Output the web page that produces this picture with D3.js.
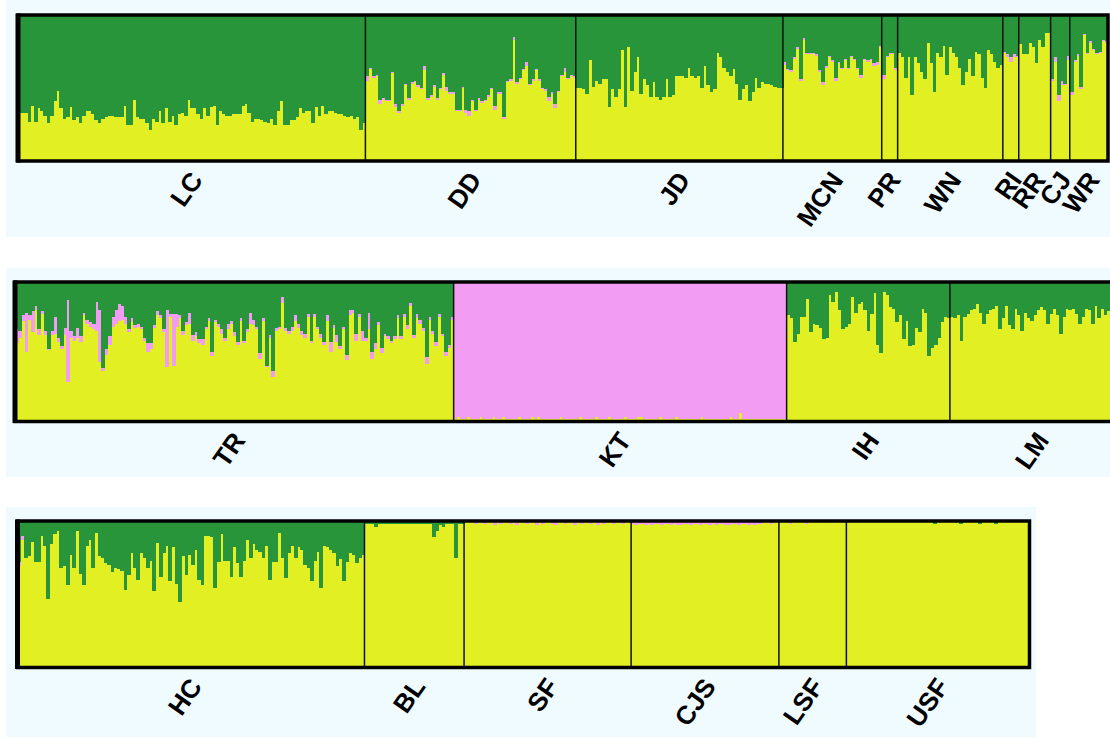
<!DOCTYPE html>
<html>
<head>
<meta charset="utf-8">
<script src="https://cdn.jsdelivr.net/npm/d3@7"></script>
<style>
  body { margin: 0; background: #fff; }
  .pop-label { font-family: 'Liberation Sans', Arial, sans-serif; font-weight: bold; font-size: 26px; fill: #000; }
</style>
</head>
<body>
<svg id="chart" width="1110" height="738"></svg>
<script>
// population names, one list per row of the figure
const row1Pops = ['LC', 'DD', 'JD', 'MCN', 'PR', 'WN', 'RI', 'RR', 'CJ', 'WR']
const row2Pops = ['TR', 'KT', 'IH', 'LM']
const row3Pops = ['HC', 'BL', 'SF', 'CJS', 'LSF', 'USF']

// membership (%) per individual: yellow cluster at the bottom, pink above, green takes the rest
const lcYellow = [33, 33, 33, 27, 38, 27, 36, 34, 31, 26, 31, 41, 48, 36, 29, 30, 37, 28, 30, 26, 31, 34, 34, 32, 28, 26, 29, 30, 31, 31, 30, 30, 30, 38, 25, 25, 42, 30, 29, 29, 26, 21, 29, 27, 34, 26, 36, 27, 31, 25, 32, 33, 31, 42, 36, 36, 32, 29, 36, 31, 37, 38, 25, 34, 32, 31, 31, 32, 32, 32, 38, 39, 33, 27, 29, 29, 28, 27, 26, 29, 25, 34, 41, 25, 25, 28, 28, 30, 36, 33, 34, 34, 26, 37, 31, 38, 32, 34, 34, 33, 32, 32, 31, 30, 31, 29, 30, 21, 26]
const ddYellow = [55, 63, 57, 58, 39, 42, 41, 41, 60, 37, 33, 38, 52, 42, 53, 54, 51, 49, 62, 42, 44, 51, 42, 49, 59, 48, 46, 46, 34, 34, 50, 33, 31, 41, 34, 42, 40, 41, 44, 49, 35, 46, 46, 29, 54, 55, 83, 53, 56, 62, 65, 52, 55, 62, 55, 49, 48, 41, 46, 36, 47, 58, 61, 56, 58, 57]
const ddPink = [3, 1, 1, 1, 3, 1, 1, 1, 1, 2, 1, 1, 1, 1, 1, 1, 1, 1, 3, 1, 1, 1, 1, 1, 1, 3, 1, 1, 1, 1, 1, 2, 3, 1, 1, 1, 1, 1, 1, 1, 3, 1, 1, 1, 1, 1, 2, 1, 1, 1, 3, 1, 1, 1, 1, 1, 1, 3, 1, 3, 1, 1, 3, 1, 1, 1]
const jdYellow = [50, 50, 49, 46, 69, 51, 55, 53, 56, 56, 37, 49, 44, 49, 76, 37, 78, 48, 61, 71, 46, 56, 52, 44, 54, 44, 42, 44, 56, 44, 45, 58, 58, 58, 57, 64, 58, 57, 58, 50, 65, 52, 47, 49, 74, 71, 64, 61, 58, 63, 53, 42, 49, 52, 41, 47, 57, 50, 54, 53, 53, 52, 51, 50, 50]
const mcnYellow = [66, 62, 61, 70, 77, 55, 83, 73, 73, 73, 72, 61, 52, 64, 71, 68, 55, 67, 63, 69, 63, 71, 69, 63, 57, 69, 68, 69, 65, 66, 78]
const mcnPink = [2, 1, 1, 1, 1, 1, 1, 1, 1, 1, 1, 1, 2, 1, 1, 1, 2, 1, 1, 1, 1, 1, 1, 1, 2, 1, 1, 1, 2, 2, 1]
const prYellow = [56, 71, 73, 73, 62]
const prPink = [3, 1, 1, 1, 2]
const wnYellow = [74, 71, 57, 71, 45, 71, 67, 61, 56, 81, 67, 47, 74, 71, 79, 59, 78, 74, 71, 64, 52, 61, 70, 58, 75, 73, 57, 50, 76, 73, 68, 64, 66]
const riYellow = [74, 71, 68, 71, 71]
const riPink = [1, 2, 3, 2, 1]
const rrYellow = [80, 73, 73, 81, 78, 67, 83, 78, 88, 88]
const cjYellow = [55, 68, 41, 52, 52, 69]
const cjPink = [1, 3, 4, 3, 1, 3]
const wrYellow = [45, 68, 72, 49, 86, 73, 81, 76, 73, 74, 82, 81]
const wrPink = [2, 1, 1, 2, 1, 1, 1, 1, 1, 1, 1, 1]

const trYellow = [56, 60, 72, 50, 73, 64, 80, 62, 77, 62, 51, 62, 63, 57, 52, 62, 28, 60, 58, 60, 57, 76, 70, 68, 66, 65, 43, 36, 48, 55, 68, 70, 72, 73, 70, 64, 71, 67, 68, 66, 58, 50, 52, 67, 76, 74, 64, 39, 75, 40, 68, 74, 62, 69, 70, 58, 61, 56, 55, 66, 72, 47, 71, 68, 63, 58, 66, 70, 61, 55,
  72, 56, 64, 70, 69, 66, 45, 72, 39, 60, 32, 65, 66, 85, 65, 63, 65, 72, 67, 62, 60, 75, 56, 75, 66, 60, 55, 72, 50, 67, 57, 52, 66, 44, 76, 78, 58, 75, 58, 58, 66, 45, 52, 69, 49, 61, 59, 56, 59, 74, 59, 75, 66, 83, 60, 74, 70, 65, 41, 73, 63, 54, 75, 61, 47, 53, 73]
const trPink = [10, 5, 4, 28, 3, 15, 3, 4, 2, 3, 1, 3, 12, 3, 2, 5, 59, 5, 3, 7, 4, 2, 3, 3, 4, 21, 37, 2, 4, 6, 7, 10, 12, 10, 5, 2, 3, 2, 2, 2, 2, 6, 4, 2, 3, 2, 2, 41, 2, 37, 9, 2, 3, 2, 8, 4, 3, 3, 4, 2, 2, 3, 2, 2, 3, 2, 4, 2, 3, 2,
  2, 2, 2, 8, 4, 2, 4, 2, 1, 2, 4, 2, 2, 4, 2, 2, 3, 4, 3, 3, 3, 2, 2, 2, 2, 3, 2, 4, 7, 2, 5, 2, 2, 4, 4, 2, 5, 2, 7, 2, 12, 5, 4, 2, 4, 2, 2, 2, 2, 2, 2, 2, 3, 2, 2, 3, 3, 2, 5, 2, 2, 3, 2, 2, 3, 2, 2]
const ktYellow = [2, 3, 2, 2, 3, 2, 2, 2, 3, 2, 2, 2, 3, 2, 2, 3, 2, 2, 2, 2, 3, 2, 2, 2, 3, 2, 3, 2, 2, 2, 2, 2, 2, 3, 2, 2, 2, 2, 2, 3, 2, 2, 2, 2, 3, 2, 2, 2, 3, 2, 2, 2, 2, 3, 2, 2, 2, 3, 3, 2, 2, 2, 2, 2, 3, 2, 2, 2, 2, 3, 2, 2, 2, 2, 2, 2, 2, 3, 2, 2, 2, 2, 2, 2, 2, 2, 3, 2, 2, 6, 2, 2, 2, 2, 2, 2, 2, 2, 2, 2, 2, 2, 2, 2]
const ktPink = [98, 97, 98, 98, 97, 98, 98, 98, 97, 98, 98, 98, 97, 98, 98, 97, 98, 98, 98, 98, 97, 98, 98, 98, 97, 98, 97, 98, 98, 98, 98, 98, 98, 97, 98, 98, 98, 98, 98, 97, 98, 98, 98, 98, 97, 98, 98, 98, 97, 98, 98, 98, 98, 97, 98, 98, 98, 97, 97, 98, 98, 98, 98, 98, 97, 98, 98, 98, 98, 97, 98, 98, 98, 98, 98, 98, 98, 97, 98, 98, 98, 98, 98, 98, 98, 98, 97, 98, 98, 94, 98, 98, 98, 98, 98, 98, 98, 98, 98, 98, 98, 98, 98, 98]
const ihYellow = [76, 74, 57, 63, 75, 75, 88, 64, 70, 69, 67, 59, 60, 91, 86, 93, 80, 66, 68, 70, 89, 78, 84, 86, 80, 65, 77, 92, 55, 49, 93, 91, 82, 81, 71, 76, 59, 72, 54, 55, 67, 64, 81, 78, 47, 53, 55, 60, 71, 75, 74]
const lmYellow = [75, 74, 76, 58, 75, 77, 80, 81, 84, 78, 70, 77, 80, 81, 83, 66, 74, 83, 69, 66, 81, 76, 65, 78, 74, 72, 76, 80, 82, 80, 70, 77, 81, 76, 63, 75, 81, 80, 81, 77, 70, 75, 81, 80, 70, 83, 74, 81, 76, 79, 72, 80, 75, 78, 74]

const hcYellow = [69, 87, 75, 76, 86, 72, 72, 90, 83, 47, 84, 91, 93, 68, 69, 56, 77, 68, 93, 64, 56, 83, 87, 68, 92, 76, 75, 71, 70, 65, 68, 67, 66, 53, 63, 78, 68, 60, 78, 75, 68, 73, 52, 85, 62, 78, 83, 59, 82, 57, 45, 76, 63, 77, 70, 80, 60, 56, 90, 90, 89, 54, 72, 91, 73, 73, 62, 82, 71, 62, 73, 87, 75, 84, 80, 79, 75, 83, 60, 72, 72, 92, 75, 61, 78, 83, 75, 82, 80, 70, 68, 59, 73, 79, 54, 83, 82, 80, 78, 69, 74, 59, 72, 78, 77, 71, 75, 77]
const hcPink = [3, 3]
const blYellow = [98, 98, 98, 96, 98, 98, 98, 98, 98, 98, 98, 98, 98, 98, 98, 98, 98, 98, 98, 98, 98, 89, 93, 97, 96, 98, 98, 98, 75, 98, 98]
const sfYellow = [99, 99, 99, 98, 99, 99, 98, 99, 99, 97, 99, 98, 99, 99, 98, 99, 97, 99, 99, 98, 99, 99, 97, 99, 98, 99, 99, 98, 97, 99, 99, 98, 99, 99, 97, 99, 98, 99, 99, 98, 99, 97, 99, 98, 99, 99, 98, 99, 99, 98, 99, 99]
const sfPink = [1, 1, 1, 2, 1, 1, 2, 1, 1, 3, 1, 2, 1, 1, 2, 1, 3, 1, 1, 2, 1, 1, 3, 1, 2, 1, 1, 2, 3, 1, 1, 2, 1, 1, 3, 1, 2, 1, 1, 2, 1, 3, 1, 2, 1, 1, 2, 1, 1, 2, 1, 1]
const cjsYellow = [98, 97, 98, 98, 97, 98, 97, 98, 98, 97, 98, 98, 97, 98, 97, 97, 98, 98, 97, 98, 98, 97, 98, 98, 97, 98, 97, 98, 98, 97, 97, 98, 98, 97, 98, 98, 97, 98, 97, 98, 98, 99, 99, 98, 99, 99]
const cjsPink = [2, 3, 2, 2, 3, 2, 3, 2, 2, 3, 2, 2, 3, 2, 3, 3, 2, 2, 3, 2, 2, 3, 2, 2, 3, 2, 3, 2, 2, 3, 3, 2, 2, 3, 2, 2, 3, 2, 3, 2, 2, 1, 1, 2, 1, 1]
const lsfYellow = [99, 99, 99, 98, 99, 99, 99, 99, 98, 99, 99, 99, 99, 99, 99, 99, 99, 99, 99, 99, 99]
const lsfPink = [1, 1, 1, 1, 1, 1, 1, 1, 1, 1, 1, 0, 1, 0, 1, 0, 1, 0, 1, 0, 1]
const usfYellow = [99, 99, 99, 99, 99, 99, 99, 99, 99, 99, 99, 99, 99, 99, 99, 99, 99, 99, 99, 99, 99, 99, 99, 99, 99, 99, 99, 98, 99, 99, 99, 99, 99, 99, 99, 98, 99, 99, 99, 99, 99, 98, 99, 99, 99, 99, 98, 99, 99, 99, 99, 99, 99, 99, 99, 99, 99]

const yellowByPop = {
  LC: lcYellow, DD: ddYellow, JD: jdYellow, MCN: mcnYellow, PR: prYellow, WN: wnYellow, RI: riYellow, RR: rrYellow, CJ: cjYellow, WR: wrYellow,
  TR: trYellow, KT: ktYellow, IH: ihYellow, LM: lmYellow,
  HC: hcYellow, BL: blYellow, SF: sfYellow, CJS: cjsYellow, LSF: lsfYellow, USF: usfYellow
}
const pinkByPop = {
  DD: ddPink, MCN: mcnPink, PR: prPink, RI: riPink, CJ: cjPink, WR: wrPink,
  TR: trPink, KT: ktPink, HC: hcPink, SF: sfPink, CJS: cjsPink, LSF: lsfPink
}

const colors = { yellow: '#e1ef23', pink: '#f39cf3', green: '#28953a' }
const panelBg = '#effbff'

const svg = d3.select('#chart')

// light background strips behind each row
const backgrounds = [
  { x: 6, y: 0, w: 1104, h: 237 },
  { x: 6, y: 268, w: 1104, h: 209 },
  { x: 6, y: 507, w: 1030, h: 230 }
]
svg.selectAll('rect.bg').data(backgrounds).join('rect')
  .attr('class', 'bg')
  .attr('x', d => d.x).attr('y', d => d.y)
  .attr('width', d => d.w).attr('height', d => d.h)
  .attr('fill', panelBg)

const panels = [
  { pops: row1Pops, x0: 18, x1: 1108, y0: 15, y1: 161 },
  { pops: row2Pops, x0: 15, x1: 1126, y0: 282, y1: 421.5 },
  { pops: row3Pops, x0: 17.5, x1: 1029.5, y0: 521, y1: 667.5 }
]

function drawPanel (panel) {
  const rows = []
  panel.pops.forEach(name => {
    const pink = pinkByPop[name] || []
    yellowByPop[name].forEach((y, i) => {
      const p = pink[i] || 0
      rows.push({ id: name + '-' + i, pop: name, yellow: y, pink: p, green: Math.max(0, 100 - y - p) })
    })
  })

  const x = d3.scaleBand().domain(rows.map(d => d.id)).range([panel.x0, panel.x1]).padding(0)
  const y = d3.scaleLinear().domain([0, 100]).range([panel.y1, panel.y0])
  const series = d3.stack().keys(['yellow', 'pink', 'green'])(rows)

  const g = svg.append('g')

  g.selectAll('g.layer').data(series).join('g')
    .attr('class', 'layer')
    .attr('fill', s => colors[s.key])
    .selectAll('rect').data(s => s).join('rect')
    .attr('x', d => x(d.data.id))
    .attr('width', x.bandwidth() + 0.6)
    .attr('y', d => y(Math.min(100, d[1])))
    .attr('height', d => Math.max(0, y(d[0]) - y(Math.min(100, d[1]))))
    .attr('shape-rendering', 'crispEdges')

  // population extents
  const groups = panel.pops.map(name => {
    const ids = rows.filter(r => r.pop === name)
    const start = x(ids[0].id)
    const end = x(ids[ids.length - 1].id) + x.bandwidth()
    return { name, start, end }
  })

  // separators between populations
  g.selectAll('line.sep').data(groups.slice(1)).join('line')
    .attr('class', 'sep')
    .attr('x1', d => d.start).attr('x2', d => d.start)
    .attr('y1', panel.y0).attr('y2', panel.y1)
    .attr('stroke', '#111').attr('stroke-width', 1.5)

  // frame
  g.append('rect')
    .attr('x', panel.x0).attr('y', panel.y0)
    .attr('width', panel.x1 - panel.x0).attr('height', panel.y1 - panel.y0)
    .attr('fill', 'none').attr('stroke', '#000').attr('stroke-width', 3.5)
  g.append('line')
    .attr('x1', panel.x0).attr('x2', panel.x0)
    .attr('y1', panel.y0 - 1.5).attr('y2', panel.y1 + 1.5)
    .attr('stroke', '#000').attr('stroke-width', 5)

  // rotated population labels
  g.selectAll('text.pop-label').data(groups).join('text')
    .attr('class', 'pop-label')
    .attr('text-anchor', 'end')
    .attr('transform', d => `translate(${(d.start + d.end) / 2 + 12}, ${panel.y1 + 19}) rotate(-55)`)
    .text(d => d.name)
}

panels.forEach(drawPanel)
</script>
</body>
</html>
